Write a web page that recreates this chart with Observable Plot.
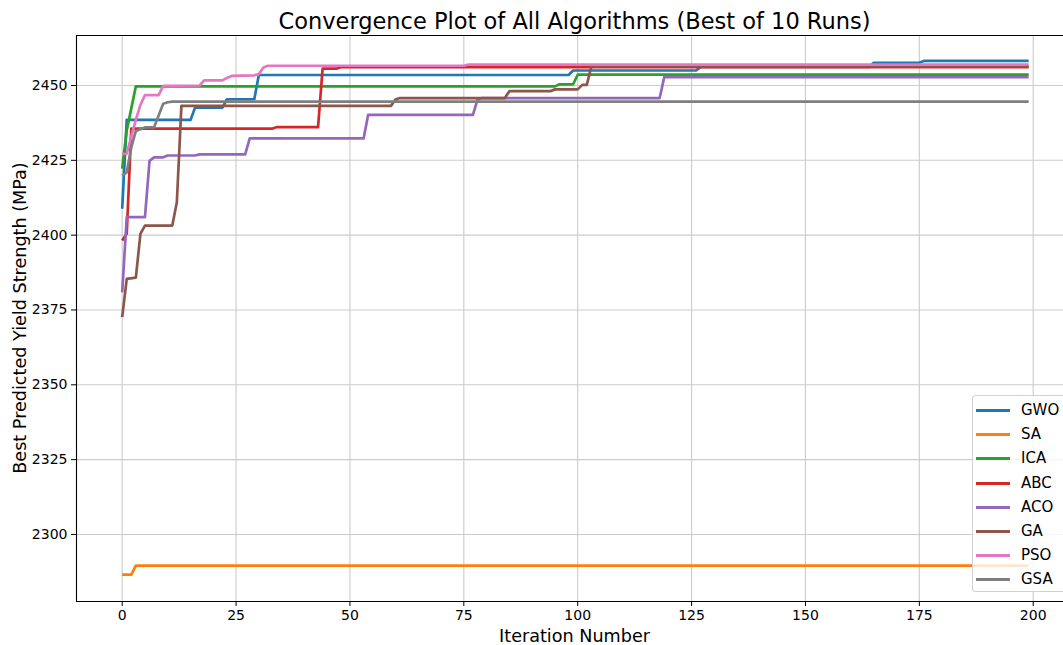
<!DOCTYPE html>
<html>
<head>
<meta charset="utf-8">
<script src="https://cdn.jsdelivr.net/npm/d3@7"></script>
<script src="https://cdn.jsdelivr.net/npm/@observablehq/plot@0.6"></script>
<style>
  html, body { margin: 0; padding: 0; background: #fff; }
  #wrap { position: relative; width: 1063px; height: 645px; overflow: hidden; font-family: "DejaVu Sans", sans-serif; color: #000; }
  #chart { position: absolute; left: 0; top: 0; }
  .title { position: absolute; left: 0; width: 1149px; top: 8px; text-align: center; font-size: 22.5px; white-space: nowrap; }
  .xlabel { position: absolute; left: 0; width: 1149px; top: 626px; text-align: center; font-size: 17.6px; white-space: nowrap; }
  .ylabel { position: absolute; left: 20px; top: 318px; transform: translate(-50%, -50%) rotate(-90deg); font-size: 17.6px; white-space: nowrap; }
  .legend { position: absolute; left: 972px; top: 395px; width: 104px; height: 197px; box-sizing: border-box;
            background: rgba(255,255,255,0.8); border: 1px solid rgba(204,204,204,0.9); border-radius: 4px; }
  .legend .row { position: absolute; left: 0; height: 20px; display: flex; align-items: center; }
  .legend .sw { width: 34px; height: 3px; margin-left: 3px; }
  .legend .lb { margin-left: 11px; font-size: 15px; }
</style>
</head>
<body>
<div id="wrap">
  <div id="chart"></div>
</div>
<script>
// ---- data ----
const iterTicks = [0, 25, 50, 75, 100, 125, 150, 175, 200];
const yieldTicks = [2300, 2325, 2350, 2375, 2400, 2425, 2450];
const algorithms = ["GWO", "SA", "ICA", "ABC", "ACO", "GA", "PSO", "GSA"];
const colors = ["#1f77b4", "#ff7f0e", "#2ca02c", "#d62728", "#9467bd", "#8c564b", "#e377c2", "#7f7f7f"];

// [iteration, best predicted yield strength] vertices
const GWO = [[0,2408.8],[1,2438.5],[15,2438.5],[16,2442.6],[22,2442.6],[23,2445.4],[29,2445.4],[30,2453.5],[98,2453.5],[99,2455.0],[126,2455.0],[127,2456.2],[164,2456.2],[165,2457.6],[175,2457.6],[176,2458.2],[199,2458.2]];
const SA  = [[0,2286.6],[2,2286.6],[3,2289.6],[199,2289.6]];
const ICA = [[0,2422.2],[1,2435.0],[3,2449.7],[95,2449.7],[96,2450.4],[99,2450.4],[100,2453.6],[199,2453.6]];
const ABC = [[0,2398.2],[1,2400.5],[2,2435.6],[33,2435.6],[34,2436.1],[43,2436.1],[44,2455.6],[47,2455.6],[48,2456.1],[199,2456.1]];
const ACO = [[0,2380.9],[1,2406.0],[5,2406.0],[6,2424.8],[7,2426.0],[9,2426.0],[10,2426.6],[16,2426.6],[17,2427.0],[27,2427.0],[28,2432.3],[53,2432.3],[54,2440.2],[77,2440.2],[78,2445.3],[79,2445.8],[118,2445.8],[119,2452.8],[199,2452.8]];
const GA  = [[0,2372.6],[1,2385.4],[3,2385.8],[4,2400.4],[5,2403.2],[11,2403.2],[12,2411.0],[13,2443.2],[59,2443.2],[60,2445.3],[61,2445.8],[84,2445.8],[85,2448.1],[94,2448.1],[95,2448.7],[100,2448.7],[101,2450.2],[102,2450.2],[103,2456.4],[199,2456.4]];
const PSO = [[0,2427.2],[1,2427.2],[2,2433.0],[3,2438.5],[4,2443.5],[5,2446.8],[8,2446.8],[9,2449.9],[17,2450.0],[18,2451.7],[22,2451.7],[23,2452.5],[24,2453.2],[29,2453.4],[30,2453.8],[31,2456.0],[32,2456.6],[75,2456.6],[76,2457.0],[199,2457.0]];
const GSA = [[0,2419.8],[1,2421.0],[2,2429.3],[3,2434.8],[5,2436.0],[7,2436.0],[8,2440.0],[9,2443.9],[10,2444.4],[11,2444.6],[199,2444.6]];

const seriesData = [GWO, SA, ICA, ABC, ACO, GA, PSO, GSA];

// ---- build table ----
const rows = [];
algorithms.forEach((name, i) => {
  seriesData[i].forEach(([it, v]) => rows.push({alg: name, it, v}));
});

const W = 1063, H = 645;
const gridStroke = "#cbcbcb";

const marks = [
  Plot.ruleX(iterTicks, {x: d => d, stroke: gridStroke, strokeWidth: 1.1}),
  Plot.ruleY(yieldTicks, {y: d => d, stroke: gridStroke, strokeWidth: 1.1}),
];
algorithms.forEach(name => {
  marks.push(Plot.line(rows.filter(r => r.alg === name), {
    x: "it", y: "v", stroke: "alg", strokeWidth: 2.7,
    strokeLinejoin: "round", strokeLinecap: "butt"
  }));
});
marks.push(Plot.frame({anchor: "left", stroke: "#000", strokeWidth: 1.1}));
marks.push(Plot.frame({anchor: "top", stroke: "#000", strokeWidth: 1.1}));
marks.push(Plot.frame({anchor: "bottom", stroke: "#000", strokeWidth: 1.1}));

const chart = Plot.plot({
  width: W,
  height: H,
  marginLeft: 76,
  marginRight: 0,
  marginTop: 35,
  marginBottom: 44,
  style: {fontFamily: "DejaVu Sans, sans-serif", fontSize: "14px", color: "#000", background: "transparent", overflow: "visible"},
  x: {domain: [-10.03, 206.65], ticks: iterTicks, tickSize: 5, tickPadding: 4, tickFormat: d => String(d), label: null},
  y: {domain: [2277.6, 2466.7], ticks: yieldTicks, tickSize: 5, tickPadding: 4, tickFormat: d => String(d), label: null},
  color: {domain: algorithms, range: colors},
  marks
});
document.getElementById("chart").appendChild(chart);

// ---- text & legend ----
const wrap = document.getElementById("wrap");
function addDiv(cls, text) {
  const d = document.createElement("div");
  d.className = cls;
  d.textContent = text;
  wrap.appendChild(d);
  return d;
}
addDiv("title", "Convergence Plot of All Algorithms (Best of 10 Runs)");
addDiv("xlabel", "Iteration Number");
addDiv("ylabel", "Best Predicted Yield Strength (MPa)");

const legend = document.createElement("div");
legend.className = "legend";
algorithms.forEach((name, i) => {
  const row = document.createElement("div");
  row.className = "row";
  row.style.top = Math.round(4 + i * 24.2) + "px";
  const sw = document.createElement("div");
  sw.className = "sw";
  sw.style.background = colors[i];
  const lb = document.createElement("div");
  lb.className = "lb";
  lb.textContent = name;
  row.appendChild(sw);
  row.appendChild(lb);
  legend.appendChild(row);
});
wrap.appendChild(legend);
</script>
</body>
</html>
